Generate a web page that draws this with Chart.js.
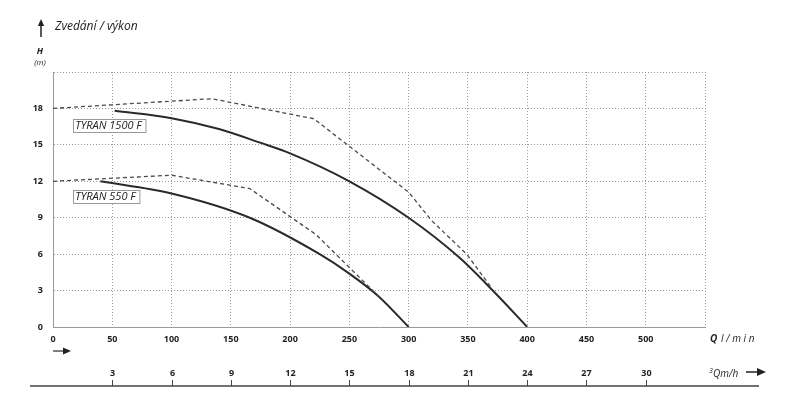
<!DOCTYPE html>
<html>
<head>
<meta charset="utf-8">
<script src="https://cdn.jsdelivr.net/npm/chart.js@4.4.0/dist/chart.umd.min.js"></script>
<style>
  html, body { margin: 0; padding: 0; background: #fff; }
</style>
</head>
<body>
<canvas id="pumpChart" width="787" height="397"></canvas>
<script>
// axis values
const flowMax = 550;          // l/min
const headMax = 21;           // m
const flowStep = 50;
const headStep = 3;
const m3hTicks = [3, 6, 9, 12, 15, 18, 21, 24, 27, 30];

// TYRAN 1500 F
const q1500 = [52, 100, 140, 174, 200, 250, 300, 343, 372, 400];
const h1500 = [17.8, 17.2, 16.3, 15.2, 14.3, 12.0, 9.0, 5.7, 2.9, 0];
const q1500max = [0, 50, 134, 220, 300, 320, 349, 370];
const h1500max = [18, 18.3, 18.8, 17.15, 11.1, 8.7, 6.0, 3.2];

// TYRAN 550 F
const q550 = [40, 100, 166, 225, 250, 275, 300];
const h550 = [12.0, 11.0, 9.0, 6.0, 4.4, 2.5, 0];
const q550max = [0, 100, 166, 222, 278];
const h550max = [12, 12.5, 11.4, 7.6, 2.2];

const pumpLabels = ['TYRAN 1500 F', 'TYRAN 550 F'];

function points(xs, ys) {
    return xs.map((x, i) => ({ x: x, y: ys[i] }));
}

const solid = { borderColor: '#2a2a2a', borderWidth: 2, pointRadius: 0, cubicInterpolationMode: 'monotone', fill: false };
const dashed = { borderColor: '#4a4a4a', borderWidth: 1.3, borderDash: [4, 3], pointRadius: 0, tension: 0, fill: false };

function arrow(ctx, x1, y1, x2, y2, head) {
    const a = Math.atan2(y2 - y1, x2 - x1);
    ctx.beginPath();
    ctx.moveTo(x1, y1);
    ctx.lineTo(x2 - Math.cos(a) * head, y2 - Math.sin(a) * head);
    ctx.stroke();
    ctx.beginPath();
    ctx.moveTo(x2, y2);
    ctx.lineTo(x2 - Math.cos(a) * head - Math.sin(a) * head * 0.45, y2 - Math.sin(a) * head + Math.cos(a) * head * 0.45);
    ctx.lineTo(x2 - Math.cos(a) * head + Math.sin(a) * head * 0.45, y2 - Math.sin(a) * head - Math.cos(a) * head * 0.45);
    ctx.closePath();
    ctx.fill();
}

const decorations = {
    id: 'decorations',
    afterDraw(chart) {
        const ctx = chart.ctx;
        const x = chart.scales.x;
        const y = chart.scales.y;
        const area = chart.chartArea;
        ctx.save();
        ctx.fillStyle = '#222';
        ctx.strokeStyle = '#222';

        // title with arrow
        ctx.lineWidth = 1.5;
        arrow(ctx, 41, 37, 41, 19, 7);
        ctx.font = 'italic 12px "Open Sans"';
        ctx.textAlign = 'left';
        ctx.textBaseline = 'middle';
        ctx.fillText('Zvedání / výkon', 55, 27);

        // y unit
        ctx.textAlign = 'center';
        ctx.font = 'bold italic 9px "Open Sans"';
        ctx.fillText('H', 40, 51);
        ctx.font = 'italic 8px "Open Sans"';
        ctx.fillText('(m)', 40, 63);

        // arrow under 0
        ctx.strokeStyle = '#555';
        ctx.fillStyle = '#222';
        ctx.lineWidth = 1.5;
        arrow(ctx, area.left, 351, area.left + 18, 351, 8);

        // Q l/min
        ctx.fillStyle = '#222';
        ctx.textAlign = 'left';
        ctx.font = 'bold italic 10px "Open Sans"';
        ctx.fillText('Q', 710, 339);
        ctx.font = 'italic 10px "Open Sans"';
        ctx.fillText('l / m i n', 721, 339);

        // second flow axis in m3/h
        const lineY = 386;
        ctx.strokeStyle = '#444';
        ctx.lineWidth = 1.5;
        ctx.beginPath();
        ctx.moveTo(30, lineY);
        ctx.lineTo(759, lineY);
        ctx.stroke();
        ctx.lineWidth = 1;
        ctx.font = 'bold 9px "Open Sans"';
        ctx.textAlign = 'center';
        m3hTicks.forEach(v => {
            const px = Math.round(x.getPixelForValue(v * 1000 / 60)) + 0.5;
            ctx.beginPath();
            ctx.moveTo(px, lineY - 6);
            ctx.lineTo(px, lineY);
            ctx.stroke();
            ctx.fillText(String(v), px, 373);
        });
        ctx.textAlign = 'left';
        ctx.font = 'italic 7px "Open Sans"';
        ctx.fillText('3', 709, 371);
        ctx.font = 'italic 10px "Open Sans"';
        ctx.fillText('Qm/h', 713, 374);
        ctx.strokeStyle = '#222';
        ctx.lineWidth = 1.5;
        arrow(ctx, 746, 372, 766, 372, 9);

        // pump name boxes
        const boxes = [[17, 17.15], [17, 11.3]];
        ctx.font = 'italic 11px "Open Sans"';
        pumpLabels.forEach((t, i) => {
            const bx = x.getPixelForValue(boxes[i][0]);
            const by = y.getPixelForValue(boxes[i][1]);
            const w = ctx.measureText(t).width + 6;
            ctx.fillStyle = '#fff';
            ctx.fillRect(bx, by, w, 13);
            ctx.strokeStyle = '#999';
            ctx.lineWidth = 1;
            ctx.strokeRect(Math.round(bx) + 0.5, Math.round(by) + 0.5, w, 13);
            ctx.fillStyle = '#222';
            ctx.fillText(t, bx + 2, by + 7);
        });
        ctx.restore();
    }
};

const gridStyle = { color: '#9a9a9a', lineWidth: 1, drawTicks: false };

new Chart(document.getElementById('pumpChart').getContext('2d'), {
    type: 'line',
    data: {
        datasets: [
            Object.assign({ label: 'TYRAN 1500 F max', data: points(q1500max, h1500max) }, dashed),
            Object.assign({ label: 'TYRAN 550 F max', data: points(q550max, h550max) }, dashed),
            Object.assign({ label: 'TYRAN 1500 F', data: points(q1500, h1500) }, solid),
            Object.assign({ label: 'TYRAN 550 F', data: points(q550, h550) }, solid)
        ]
    },
    options: {
        responsive: false,
        animation: false,
        layout: { padding: { top: 72, right: 82, left: 0, bottom: 0 } },
        plugins: {
            legend: { display: false },
            tooltip: { enabled: false }
        },
        scales: {
            x: {
                type: 'linear',
                min: 0,
                max: flowMax,
                grid: gridStyle,
                border: { display: true, color: '#9a9a9a', dash: [1, 2] },
                ticks: {
                    stepSize: flowStep,
                    padding: 7,
                    color: '#222',
                    font: { family: 'Open Sans', size: 9, weight: 'bold' },
                    maxRotation: 0,
                    callback: v => (v < flowMax ? v : '')
                },
                afterFit: s => { s.height = 70; }
            },
            y: {
                min: 0,
                max: headMax,
                grid: gridStyle,
                border: { display: true, color: '#9a9a9a', dash: [1, 2] },
                ticks: {
                    stepSize: headStep,
                    padding: 10,
                    color: '#222',
                    font: { family: 'Open Sans', size: 9, weight: 'bold' },
                    callback: v => (v < headMax ? v : '')
                },
                afterFit: s => { s.width = 53; }
            }
        }
    },
    plugins: [decorations]
});
</script>
</body>
</html>
